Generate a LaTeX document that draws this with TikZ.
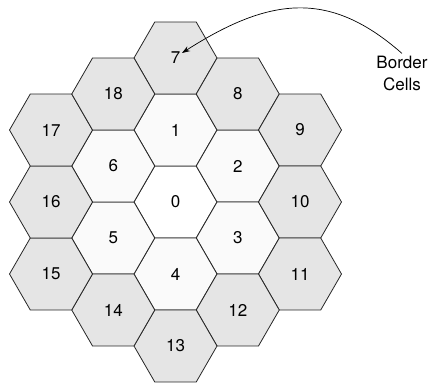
\documentclass[tikz,border=0pt]{standalone}
\usepackage{fontspec}
\setmainfont{TeX Gyre Heros}
\usetikzlibrary{shapes.geometric,arrows.meta}
\definecolor{grisborde}{RGB}{229,229,229}
\definecolor{grisint}{RGB}{250,250,250}
\begin{document}
\begin{tikzpicture}[x=1pt,y=-1pt,
  celda/.style={regular polygon, regular polygon sides=6, minimum size=83pt, inner sep=0pt, outer sep=0pt, draw=black!85, line width=0.8pt, font=\fontsize{17}{20}\selectfont},
  borde/.style={celda, fill=grisborde},
  interior/.style={celda, fill=grisint}]
  \useasboundingbox (0,0) rectangle (431,383);
  % centro y primer anillo
  \node[celda, fill=white] (c0) at (175.5,202) {0};
  \node[interior] (c1) at (175.5,130) {1};
  \node[interior] (c2) at (237.75,166) {2};
  \node[interior] (c3) at (237.75,238) {3};
  \node[interior] (c4) at (175.5,274) {4};
  \node[interior] (c5) at (113.25,238) {5};
  \node[interior] (c6) at (113.25,166) {6};
  % celdas del borde
  \node[borde] (c7) at (175.5,58) {7};
  \node[borde] (c8) at (237.75,94) {8};
  \node[borde] (c9) at (300,130) {9};
  \node[borde] (c10) at (300,202) {10};
  \node[borde] (c11) at (300,274) {11};
  \node[borde] (c12) at (237.75,310) {12};
  \node[borde] (c13) at (175.5,346) {13};
  \node[borde] (c14) at (113.25,310) {14};
  \node[borde] (c15) at (51,274) {15};
  \node[borde] (c16) at (51,202) {16};
  \node[borde] (c17) at (51,130) {17};
  \node[borde] (c18) at (113.25,94) {18};
  % etiqueta y flecha
  \node[align=center, font=\fontsize{17}{22}\selectfont, inner sep=2pt] (txt) at (402,73) {Border\\Cells};
  \coordinate (punta) at (182,53);
  \draw[line width=0.7pt, -{Stealth[length=8pt,width=5.5pt]}] (txt.north) .. controls (331,-9) and (272,-4.6) .. (punta);
\end{tikzpicture}
\end{document}
